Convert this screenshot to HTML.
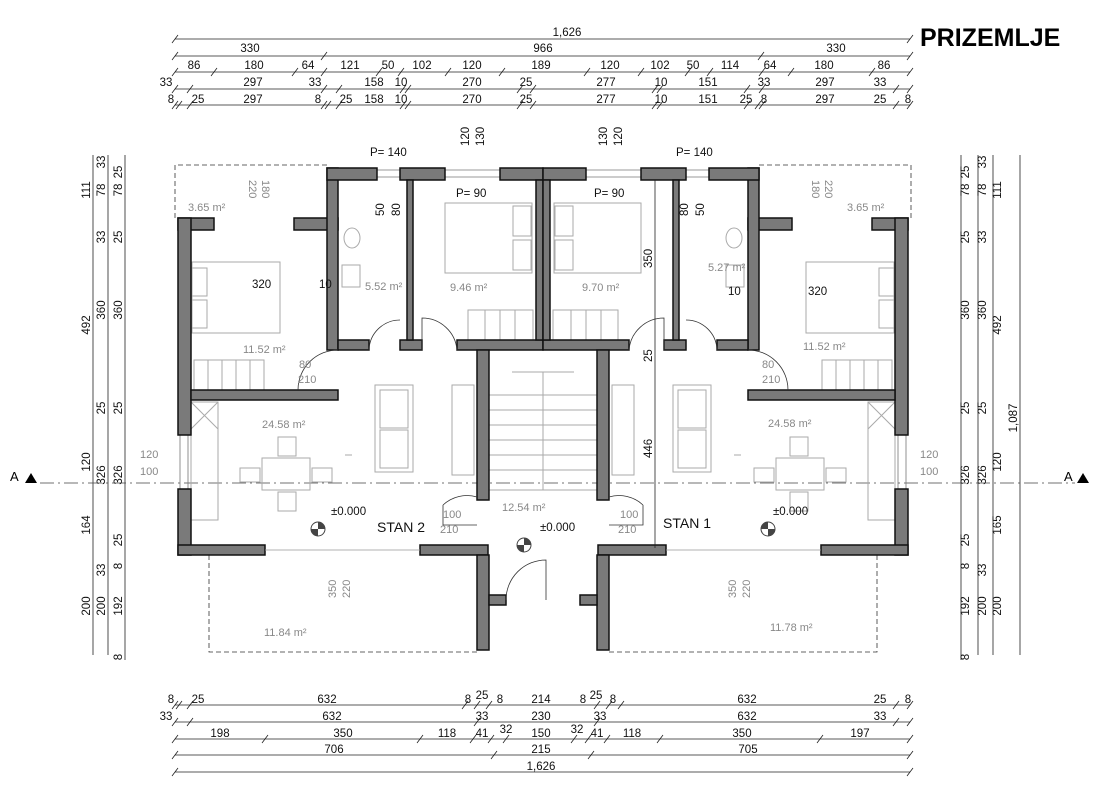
<!DOCTYPE html>
<html><head><meta charset="utf-8"><style>
html,body{margin:0;padding:0;background:#fff;}
svg{display:block;font-family:"Liberation Sans",Arial,sans-serif;}
.d{font-size:11.5px;fill:#111;}
.g{font-size:11px;fill:#888;}
.w{fill:#7a7a7a;stroke:#111;stroke-width:1.5;}
.f{fill:none;stroke:#aaa;stroke-width:1;}
.l{stroke:#222;stroke-width:0.8;fill:none;}
</style></head><body>
<svg width="1103" height="797" viewBox="0 0 1103 797">
<text x="920" y="46" font-size="25" font-weight="bold" fill="#000">PRIZEMLJE</text>

<!-- top dimension lines -->
<g class="l">
<line x1="175" y1="39" x2="910" y2="39"/><line x1="175" y1="56" x2="910" y2="56"/>
<line x1="175" y1="72" x2="910" y2="72"/><line x1="175" y1="89" x2="910" y2="89"/>
<line x1="175" y1="105" x2="910" y2="105"/>
<line x1="175" y1="705" x2="910" y2="705"/><line x1="175" y1="722" x2="910" y2="722"/>
<line x1="175" y1="739" x2="910" y2="739"/><line x1="175" y1="755" x2="910" y2="755"/>
<line x1="175" y1="772" x2="910" y2="772"/>
<!-- ticks -->
<path d="M172,43l6,-8M172,60l6,-8M321,60l6,-8M758,60l6,-8M907,60l6,-8M907,43l6,-8
M172,76l6,-8M211,76l6,-8M292,76l6,-8M321,76l6,-8M376,76l6,-8M398,76l6,-8M445,76l6,-8M499,76l6,-8M584,76l6,-8M638,76l6,-8M685,76l6,-8M707,76l6,-8M759,76l6,-8M788,76l6,-8M869,76l6,-8M907,76l6,-8
M172,93l6,-8M187,93l6,-8M321,93l6,-8M336,93l6,-8M400,93l6,-8M405,93l6,-8M517,93l6,-8M530,93l6,-8M652,93l6,-8M657,93l6,-8M744,93l6,-8M759,93l6,-8M893,93l6,-8M907,93l6,-8
M172,109l6,-8M176,109l6,-8M187,109l6,-8M321,109l6,-8M325,109l6,-8M336,109l6,-8M400,109l6,-8M405,109l6,-8M517,109l6,-8M530,109l6,-8M652,109l6,-8M657,109l6,-8M744,109l6,-8M755,109l6,-8M759,109l6,-8M893,109l6,-8M907,109l6,-8
M172,709l6,-8M176,709l6,-8M187,709l6,-8M462,709l6,-8M474,709l6,-8M486,709l6,-8M594,709l6,-8M606,709l6,-8M618,709l6,-8M893,709l6,-8M907,709l6,-8
M172,726l6,-8M187,726l6,-8M474,726l6,-8M594,726l6,-8M893,726l6,-8M907,726l6,-8
M172,743l6,-8M262,743l6,-8M417,743l6,-8M470,743l6,-8M488,743l6,-8M503,743l6,-8M571,743l6,-8M585,743l6,-8M604,743l6,-8M657,743l6,-8M817,743l6,-8M907,743l6,-8
M172,759l6,-8M491,759l6,-8M588,759l6,-8M907,759l6,-8
M172,776l6,-8M907,776l6,-8"/>
</g>
<g class="d" text-anchor="middle">
<text x="567" y="36">1,626</text>
<text x="250" y="52">330</text><text x="543" y="52">966</text><text x="836" y="52">330</text>
<text x="194" y="69">86</text><text x="254" y="69">180</text><text x="308" y="69">64</text><text x="350" y="69">121</text><text x="388" y="69">50</text><text x="422" y="69">102</text><text x="472" y="69">120</text><text x="541" y="69">189</text><text x="610" y="69">120</text><text x="660" y="69">102</text><text x="693" y="69">50</text><text x="730" y="69">114</text><text x="770" y="69">64</text><text x="824" y="69">180</text><text x="884" y="69">86</text>
<text x="166" y="86">33</text><text x="253" y="86">297</text><text x="315" y="86">33</text><text x="374" y="86">158</text><text x="401" y="86">10</text><text x="472" y="86">270</text><text x="526" y="86">25</text><text x="606" y="86">277</text><text x="661" y="86">10</text><text x="708" y="86">151</text><text x="764" y="86">33</text><text x="825" y="86">297</text><text x="880" y="86">33</text>
<text x="171" y="103">8</text><text x="198" y="103">25</text><text x="253" y="103">297</text><text x="318" y="103">8</text><text x="346" y="103">25</text><text x="374" y="103">158</text><text x="401" y="103">10</text><text x="472" y="103">270</text><text x="526" y="103">25</text><text x="606" y="103">277</text><text x="661" y="103">10</text><text x="708" y="103">151</text><text x="746" y="103">25</text><text x="764" y="103">8</text><text x="825" y="103">297</text><text x="880" y="103">25</text><text x="908" y="103">8</text>
<text x="171" y="703">8</text><text x="198" y="703">25</text><text x="327" y="703">632</text><text x="468" y="703">8</text><text x="482" y="699">25</text><text x="500" y="703">8</text><text x="541" y="703">214</text><text x="583" y="703">8</text><text x="596" y="699">25</text><text x="613" y="703">8</text><text x="747" y="703">632</text><text x="880" y="703">25</text><text x="908" y="703">8</text>
<text x="166" y="720">33</text><text x="332" y="720">632</text><text x="482" y="720">33</text><text x="541" y="720">230</text><text x="600" y="720">33</text><text x="747" y="720">632</text><text x="880" y="720">33</text>
<text x="220" y="737">198</text><text x="343" y="737">350</text><text x="447" y="737">118</text><text x="482" y="737">41</text><text x="506" y="733">32</text><text x="541" y="737">150</text><text x="577" y="733">32</text><text x="597" y="737">41</text><text x="632" y="737">118</text><text x="742" y="737">350</text><text x="860" y="737">197</text>
<text x="334" y="753">706</text><text x="541" y="753">215</text><text x="748" y="753">705</text>
<text x="541" y="770">1,626</text>
</g>

<!-- vertical dims left -->
<g class="l">
<line x1="93" y1="155" x2="93" y2="655"/><line x1="108" y1="155" x2="108" y2="655"/><line x1="125" y1="155" x2="125" y2="660"/>
<line x1="993" y1="155" x2="993" y2="655"/><line x1="978" y1="155" x2="978" y2="655"/><line x1="961" y1="155" x2="961" y2="660"/>
<line x1="1020" y1="155" x2="1020" y2="655"/>
</g>
<g class="d" text-anchor="middle">
<g transform="translate(90,190) rotate(-90)"><text>111</text></g>
<g transform="translate(90,325) rotate(-90)"><text>492</text></g>
<g transform="translate(90,462) rotate(-90)"><text>120</text></g>
<g transform="translate(90,525) rotate(-90)"><text>164</text></g>
<g transform="translate(90,606) rotate(-90)"><text>200</text></g>
<g transform="translate(105,162) rotate(-90)"><text>33</text></g>
<g transform="translate(105,190) rotate(-90)"><text>78</text></g>
<g transform="translate(105,237) rotate(-90)"><text>33</text></g>
<g transform="translate(105,310) rotate(-90)"><text>360</text></g>
<g transform="translate(105,408) rotate(-90)"><text>25</text></g>
<g transform="translate(105,475) rotate(-90)"><text>326</text></g>
<g transform="translate(105,570) rotate(-90)"><text>33</text></g>
<g transform="translate(105,606) rotate(-90)"><text>200</text></g>
<g transform="translate(122,172) rotate(-90)"><text>25</text></g>
<g transform="translate(122,190) rotate(-90)"><text>78</text></g>
<g transform="translate(122,237) rotate(-90)"><text>25</text></g>
<g transform="translate(122,310) rotate(-90)"><text>360</text></g>
<g transform="translate(122,408) rotate(-90)"><text>25</text></g>
<g transform="translate(122,475) rotate(-90)"><text>326</text></g>
<g transform="translate(122,540) rotate(-90)"><text>25</text></g>
<g transform="translate(122,566) rotate(-90)"><text>8</text></g>
<g transform="translate(122,606) rotate(-90)"><text>192</text></g>
<g transform="translate(122,657) rotate(-90)"><text>8</text></g>
<g transform="translate(1017,418) rotate(-90)"><text>1,087</text></g>
<g transform="translate(1001,190) rotate(-90)"><text>111</text></g>
<g transform="translate(1001,325) rotate(-90)"><text>492</text></g>
<g transform="translate(1001,462) rotate(-90)"><text>120</text></g>
<g transform="translate(1001,525) rotate(-90)"><text>165</text></g>
<g transform="translate(1001,606) rotate(-90)"><text>200</text></g>
<g transform="translate(986,162) rotate(-90)"><text>33</text></g>
<g transform="translate(986,190) rotate(-90)"><text>78</text></g>
<g transform="translate(986,237) rotate(-90)"><text>33</text></g>
<g transform="translate(986,310) rotate(-90)"><text>360</text></g>
<g transform="translate(986,408) rotate(-90)"><text>25</text></g>
<g transform="translate(986,475) rotate(-90)"><text>326</text></g>
<g transform="translate(986,570) rotate(-90)"><text>33</text></g>
<g transform="translate(986,606) rotate(-90)"><text>200</text></g>
<g transform="translate(969,172) rotate(-90)"><text>25</text></g>
<g transform="translate(969,190) rotate(-90)"><text>78</text></g>
<g transform="translate(969,237) rotate(-90)"><text>25</text></g>
<g transform="translate(969,310) rotate(-90)"><text>360</text></g>
<g transform="translate(969,408) rotate(-90)"><text>25</text></g>
<g transform="translate(969,475) rotate(-90)"><text>326</text></g>
<g transform="translate(969,540) rotate(-90)"><text>25</text></g>
<g transform="translate(969,566) rotate(-90)"><text>8</text></g>
<g transform="translate(969,606) rotate(-90)"><text>192</text></g>
<g transform="translate(969,657) rotate(-90)"><text>8</text></g>
</g>

<!-- section line -->
<line x1="40" y1="483" x2="1075" y2="483" stroke="#444" stroke-width="0.8" stroke-dasharray="14,4,2,4"/>
<text x="10" y="481" font-size="13" fill="#000">A</text><path d="M25,483l6,-10l6,10z" fill="#000"/>
<text x="1064" y="481" font-size="13" fill="#000">A</text><path d="M1077,483l6,-10l6,10z" fill="#000"/>

<!-- plan half, mirrored -->
<g id="half">
<path d="M327,165H175V218M209,555V652H477" fill="none" stroke="#333" stroke-width="0.8" stroke-dasharray="5,3"/>
<!-- furniture -->
<g class="f">
<rect x="192" y="262" width="88" height="71"/><rect x="192" y="268" width="15" height="28"/><rect x="192" y="300" width="15" height="28"/>
<rect x="445" y="203" width="87" height="70"/><rect x="513" y="206" width="18" height="30"/><rect x="513" y="240" width="18" height="30"/>
<rect x="375" y="385" width="38" height="87"/><rect x="380" y="390" width="28" height="38"/><rect x="380" y="430" width="28" height="38"/>
<rect x="262" y="458" width="48" height="32"/><rect x="278" y="437" width="18" height="19"/><rect x="278" y="492" width="18" height="19"/><rect x="240" y="468" width="20" height="14"/><rect x="312" y="468" width="20" height="14"/>
<rect x="191" y="402" width="27" height="118"/><path d="M191,402l27,27M218,402l-27,27"/>
<rect x="342" y="265" width="18" height="22"/><ellipse cx="352" cy="238" rx="8" ry="10"/>
<path d="M194,360h70v30h-70zM208,360v30M222,360v30M236,360v30M250,360v30"/>
<path d="M468,310h65v30h-65zM485,310v30M500,310v30M515,310v30"/>
<rect x="452" y="385" width="22" height="90"/>
<path d="M489,395h54v95h-54zM489,410h54M489,425h54M489,440h54M489,455h54M489,470h54M512,372h31v23"/>
<path d="M345,455h7"/>
</g>
<!-- windows -->
<path d="M377,170h23M377,177h23M445,170h55M445,177h55M180,435v54M188,435v54" stroke="#777" stroke-width="0.8"/>
<!-- walls -->
<g class="w">
<rect x="178" y="218" width="36" height="12"/>
<rect x="294" y="218" width="44" height="12"/>
<rect x="327" y="168" width="11" height="182"/>
<rect x="327" y="168" width="50" height="12"/>
<rect x="400" y="168" width="45" height="12"/>
<rect x="500" y="168" width="43" height="12"/>
<rect x="178" y="218" width="13" height="217"/>
<rect x="178" y="489" width="13" height="66"/>
<rect x="178" y="545" width="87" height="10"/>
<rect x="191" y="390" width="147" height="10"/>
<rect x="338" y="340" width="31" height="10"/>
<rect x="400" y="340" width="22" height="10"/>
<rect x="407" y="180" width="6" height="160"/>
<rect x="457" y="340" width="86" height="10"/>
<rect x="536" y="180" width="7" height="160"/>
<rect x="477" y="350" width="12" height="150"/>
<rect x="420" y="545" width="68" height="10"/>
<rect x="477" y="555" width="12" height="95"/>
<rect x="489" y="595" width="17" height="10"/>
</g>
<!-- doors -->
<g fill="none" stroke="#333" stroke-width="0.8">
<path d="M298,390A40,40 0 0 1 338,350"/>
<path d="M369,350A31,31 0 0 1 400,320"/>
<path d="M422,350V318A35,35 0 0 1 457,350" />
<path d="M443,505A35,35 0 0 1 477,497"/><path d="M443,505V525H477"/>
<path d="M265,550H420" stroke="#999"/>
</g>
<circle cx="318" cy="529" r="7" fill="none" stroke="#444"/><path d="M318,522a7,7 0 0 1 7,7h-7zM318,536a7,7 0 0 1 -7,-7h7z" fill="#444"/>
</g>
<use href="#half" transform="translate(1086,0) scale(-1,1)"/>
<!-- right corridor line -->
<line x1="655" y1="180" x2="655" y2="548" stroke="#222" stroke-width="0.8"/>
<!-- entrance door -->
<path d="M506,600A40,40 0 0 1 546,560V600" fill="none" stroke="#333" stroke-width="0.8"/>
<circle cx="524" cy="545" r="7" fill="none" stroke="#444"/><path d="M524,538a7,7 0 0 1 7,7h-7zM524,552a7,7 0 0 1 -7,-7h7z" fill="#444"/>

<!-- labels -->
<g class="g">
<text x="188" y="211">3.65 m²</text><text x="847" y="211">3.65 m²</text>
<text x="365" y="290">5.52 m²</text><text x="708" y="271">5.27 m²</text>
<text x="450" y="291">9.46 m²</text><text x="582" y="291">9.70 m²</text>
<text x="243" y="353">11.52 m²</text><text x="803" y="350">11.52 m²</text>
<text x="262" y="428">24.58 m²</text><text x="768" y="427">24.58 m²</text>
<text x="502" y="511">12.54 m²</text>
<text x="264" y="636">11.84 m²</text><text x="770" y="631">11.78 m²</text>
<text x="140" y="458">120</text><text x="140" y="475">100</text>
<text x="920" y="458">120</text><text x="920" y="475">100</text>
<text x="299" y="368">80</text><text x="298" y="383">210</text>
<text x="762" y="368">80</text><text x="762" y="383">210</text>
<text x="443" y="518">100</text><text x="440" y="533">210</text>
<text x="620" y="518">100</text><text x="618" y="533">210</text>
<g transform="translate(249,180) rotate(90)"><text>220</text></g>
<g transform="translate(262,180) rotate(90)"><text>180</text></g>
<g transform="translate(812,180) rotate(90)"><text>180</text></g>
<g transform="translate(825,180) rotate(90)"><text>220</text></g>
<g transform="translate(336,598) rotate(-90)"><text>350</text></g>
<g transform="translate(350,598) rotate(-90)"><text>220</text></g>
<g transform="translate(736,598) rotate(-90)"><text>350</text></g>
<g transform="translate(750,598) rotate(-90)"><text>220</text></g>
</g>
<g class="d">
<text x="370" y="156">P= 140</text><text x="676" y="156">P= 140</text>
<text x="456" y="197">P= 90</text><text x="594" y="197">P= 90</text>
<text x="252" y="288">320</text><text x="319" y="288">10</text>
<text x="728" y="295">10</text><text x="808" y="295">320</text>
<text x="331" y="515">±0.000</text><text x="540" y="531">±0.000</text><text x="773" y="515">±0.000</text>
<text x="377" y="532" font-size="14">STAN 2</text><text x="663" y="528" font-size="14">STAN 1</text>
<g transform="translate(652,268) rotate(-90)"><text>350</text></g>
<g transform="translate(652,458) rotate(-90)"><text>446</text></g>
<g transform="translate(652,362) rotate(-90)"><text>25</text></g>
<g transform="translate(469,146) rotate(-90)"><text>120</text></g>
<g transform="translate(484,146) rotate(-90)"><text>130</text></g>
<g transform="translate(607,146) rotate(-90)"><text>130</text></g>
<g transform="translate(622,146) rotate(-90)"><text>120</text></g>
<g transform="translate(384,216) rotate(-90)"><text>50</text></g>
<g transform="translate(400,216) rotate(-90)"><text>80</text></g>
<g transform="translate(688,216) rotate(-90)"><text>80</text></g>
<g transform="translate(704,216) rotate(-90)"><text>50</text></g>
</g>
</svg>
</body></html>
